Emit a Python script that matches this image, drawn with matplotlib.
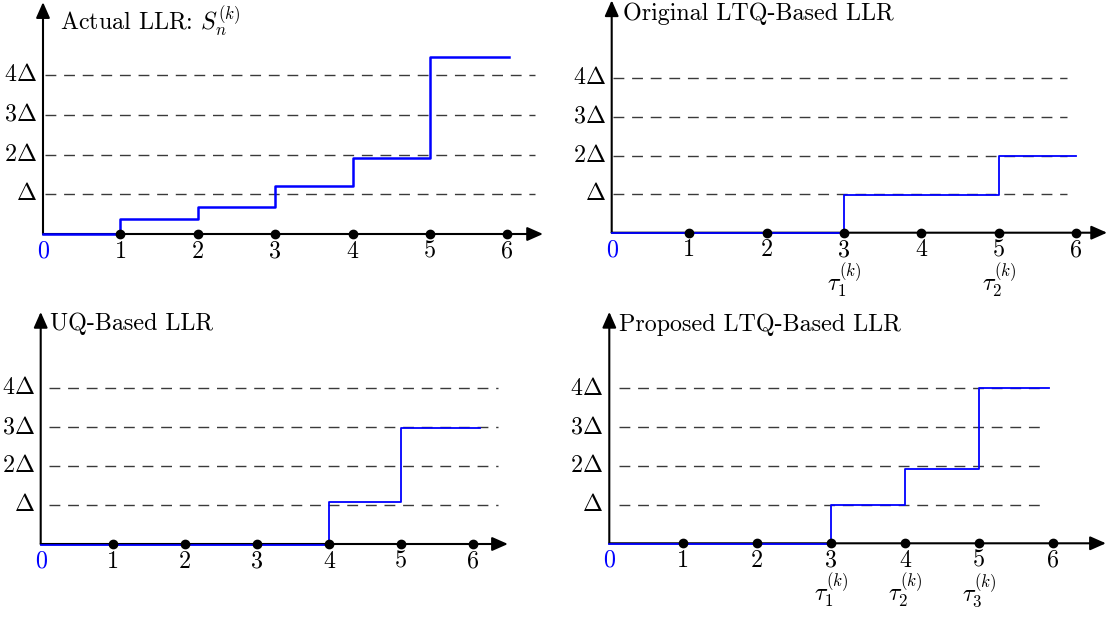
import matplotlib
matplotlib.use("Agg")
import matplotlib.pyplot as plt

plt.rcParams['mathtext.fontset'] = 'cm'
plt.rcParams['axes.unicode_minus'] = False
plt.rcParams['font.family'] = ['cmr10', 'DejaVu Serif']

# ---------------- data ----------------
panel_titles = [r'Actual LLR: $S_n^{(k)}$', 'Original LTQ-Based LLR',
                'UQ-Based LLR', 'Proposed LTQ-Based LLR']
x_ticks = [1, 2, 3, 4, 5, 6]
x_tick_labels = ['1', '2', '3', '4', '5', '6']
levels = [1, 2, 3, 4]
level_labels = [r'$\Delta$', r'$2\Delta$', r'$3\Delta$', r'$4\Delta$']

actual_llr = [0.0, 0.37, 0.67, 1.21, 1.92, 4.46]
orig_ltq_llr = [0.0, 0.0, 0.0, 0.98, 0.98, 2.0]
uq_llr = [-0.02, -0.02, -0.02, -0.02, 1.08, 2.97]
prop_ltq_llr = [-0.03, -0.03, -0.03, 1.0, 1.92, 4.0]
step_end_x = [6.02, 6.0, 6.09, 5.95]

orig_tau_x = [3, 5]
orig_tau_labels = [r'$\tau_1^{(k)}$', r'$\tau_2^{(k)}$']
prop_tau_x = [3, 4, 5]
prop_tau_labels = [r'$\tau_1^{(k)}$', r'$\tau_2^{(k)}$', r'$\tau_3^{(k)}$']

series = [actual_llr, orig_ltq_llr, uq_llr, prop_ltq_llr]
taus = [([], []), (orig_tau_x, orig_tau_labels), ([], []), (prop_tau_x, prop_tau_labels)]

# ---------------- layout ----------------
W, H = 1107, 619
fig = plt.figure(figsize=(W / 100, H / 100), dpi=100)

# per panel: (quadrant px left,right,top,bottom), origin px (x0,y0), px per unit (sx, sy)
panels = [
    dict(q=(0, 553, 0, 300), x0=43.0, y0=234.0, sx=77.4, sy=39.7,
         ytip=5.84, xtip=6.46, dash=(0.03, 6.36), lw=1.8, title_xy=(0.22, 5.14)),
    dict(q=(553, 1107, 0, 300), x0=611.7, y0=232.7, sx=77.4, sy=38.6,
         ytip=6.02, xtip=6.40, dash=(0.02, 5.88), lw=1.3, title_xy=(0.14, 5.51)),
    dict(q=(0, 553, 300, 619), x0=40.7, y0=544.0, sx=72.1, sy=39.0,
         ytip=5.95, xtip=6.48, dash=(0.12, 6.34), lw=1.3, title_xy=(0.13, 5.49)),
    dict(q=(553, 1107, 300, 619), x0=609.3, y0=543.3, sx=73.9, sy=38.7,
         ytip=5.98, xtip=6.72, dash=(0.13, 5.87), lw=1.3, title_xy=(0.13, 5.49)),
]

FS = 17.3
arrow_style = '-|>,head_length=0.95,head_width=0.42'

for i, p in enumerate(panels):
    l, r, t, b = p['q']
    ax = fig.add_axes([l / W, 1 - b / H, (r - l) / W, (b - t) / H])
    ax.set_xlim((l - p['x0']) / p['sx'], (r - p['x0']) / p['sx'])
    ax.set_ylim((p['y0'] - b) / p['sy'], (p['y0'] - t) / p['sy'])
    ax.axis('off')

    # dashed reference levels
    for lev in levels:
        ax.plot([p['dash'][0], p['dash'][1]], [lev, lev], color='#3a3a3a', lw=1.0,
                dashes=(7.8, 5.6), zorder=1, clip_on=False)
    # level labels
    for lev, lab in zip(levels, level_labels):
        ax.annotate(lab, xy=(0, lev), xytext=(-4.5, 0), textcoords='offset points',
                    ha='right', va='center', fontsize=FS, annotation_clip=False)

    # axes arrows
    ax.annotate('', xy=(p['xtip'], 0), xytext=(0, 0),
                arrowprops=dict(arrowstyle=arrow_style, mutation_scale=10, lw=1.5,
                                color='black', shrinkA=0, shrinkB=0),
                zorder=2, annotation_clip=False)
    ax.annotate('', xy=(0, p['ytip']), xytext=(0, 0),
                arrowprops=dict(arrowstyle=arrow_style, mutation_scale=10, lw=1.5,
                                color='black', shrinkA=0, shrinkB=0),
                zorder=2, annotation_clip=False)

    # step function
    vals = series[i]
    xs = [0, 1, 2, 3, 4, 5, step_end_x[i]]
    ys = list(vals) + [vals[-1]]
    ax.step(xs, ys, where='post', color='#0000ff', lw=p['lw'], zorder=3, clip_on=False)

    # dots on x axis
    ax.plot(x_ticks, [0] * len(x_ticks), 'o', color='black', ms=6.0, zorder=4, clip_on=False)

    # tick labels
    ax.annotate('0', xy=(0, 0), xytext=(0, -17), textcoords='offset points',
                ha='center', va='baseline', fontsize=FS, color='#0000ff',
                annotation_clip=False)
    for xv, lab in zip(x_ticks, x_tick_labels):
        ax.annotate(lab, xy=(xv, 0), xytext=(0, -17), textcoords='offset points',
                    ha='center', va='baseline', fontsize=FS, annotation_clip=False)

    # tau labels
    for xv, lab in zip(*taus[i]):
        ax.annotate(lab, xy=(xv, 0), xytext=(0, -42), textcoords='offset points',
                    ha='center', va='baseline', fontsize=FS, annotation_clip=False)

    # title
    ax.text(p['title_xy'][0], p['title_xy'][1], panel_titles[i], ha='left',
            va='baseline', fontsize=FS, clip_on=False)

fig.savefig('out.png', dpi=100)
